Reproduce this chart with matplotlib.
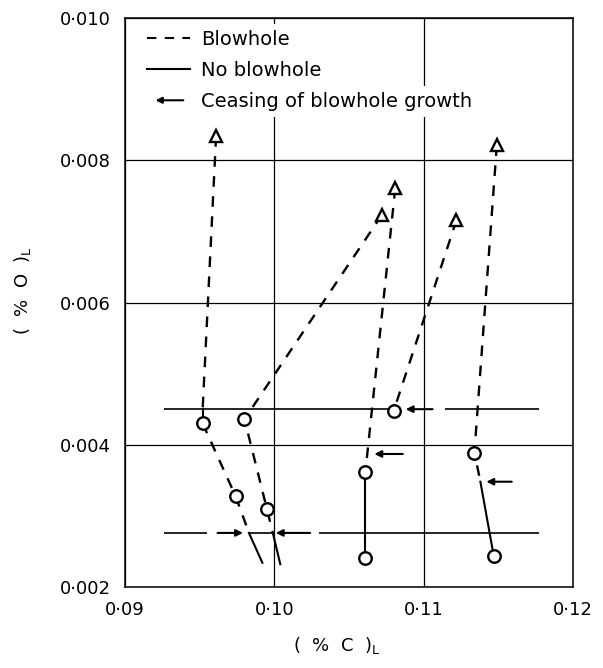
import matplotlib
matplotlib.use('Agg')
import matplotlib.pyplot as plt
from matplotlib.lines import Line2D
from matplotlib.patches import FancyArrowPatch
from matplotlib.legend_handler import HandlerBase

# end points (blowhole growth stopped / final) and circles (measured points)
tri_x = [0.0961, 0.1072, 0.1081, 0.1122, 0.1149]
tri_y = [0.00834, 0.00723, 0.00761, 0.00716, 0.00821]
circ_x = [0.0952, 0.0980, 0.1080, 0.0974, 0.0995, 0.1061, 0.1061, 0.1134, 0.1147]
circ_y = [0.00430, 0.00436, 0.00448, 0.00328, 0.00310, 0.00362, 0.00241, 0.00389, 0.00243]

# dashed paths (blowhole)
blow_x = [[0.0961, 0.0952], [0.0952, 0.0974, 0.0983],
          [0.1072, 0.0980, 0.0995, 0.0999],
          [0.1081, 0.1061], [0.1122, 0.1080], [0.1149, 0.1134, 0.1138]]
blow_y = [[0.00834, 0.00450], [0.00430, 0.00328, 0.00276],
          [0.00723, 0.00436, 0.00310, 0.00276],
          [0.00761, 0.00362], [0.00716, 0.00448], [0.00821, 0.00389, 0.00348]]

# solid paths (no blowhole)
solid_x = [[0.0952, 0.0952], [0.0983, 0.0992], [0.0999, 0.1004],
           [0.1061, 0.1061], [0.1138, 0.1147]]
solid_y = [[0.00450, 0.00430], [0.00276, 0.00234], [0.00276, 0.00232],
           [0.00362, 0.00241], [0.00348, 0.00243]]

# horizontal lines
h_y = [0.00450, 0.00450, 0.00276, 0.00276, 0.00276]
h_x0 = [0.0926, 0.1114, 0.0926, 0.0983, 0.1030]
h_x1 = [0.1080, 0.1177, 0.0955, 0.0999, 0.1177]

# arrows: ceasing of blowhole growth
arr_y = [0.00450, 0.00387, 0.00348, 0.00276, 0.00276]
arr_tail = [0.1106, 0.1086, 0.1159, 0.0962, 0.1024]
arr_tip = [0.1088, 0.1067, 0.1142, 0.0979, 0.1001]

xticks = [0.09, 0.10, 0.11, 0.12]
xlabels = ['0·09', '0·10', '0·11', '0·12']
yticks = [0.002, 0.004, 0.006, 0.008, 0.010]
ylabels = ['0·002', '0·004', '0·006', '0·008', '0·010']

plt.rcParams['font.family'] = 'DejaVu Sans'
dash = (0, (4.5, 4))


class ArrowKey:
    pass


class ArrowHandler(HandlerBase):
    def create_artists(self, legend, orig_handle, xdescent, ydescent,
                       width, height, fontsize, trans):
        y = height / 2 - ydescent
        a = FancyArrowPatch((-xdescent + width * 0.85, y), (-xdescent + width * 0.2, y),
                            arrowstyle='-|>', mutation_scale=9, color='k', lw=1.5,
                            shrinkA=0, shrinkB=0, transform=trans)
        return [a]


fig = plt.figure(figsize=(6.03, 6.68), dpi=100)
ax = fig.add_axes([0.2073, 0.1213, 0.7429, 0.8517])

for xs, ys in zip(blow_x, blow_y):
    ax.plot(xs, ys, color='k', lw=1.7, linestyle=dash, zorder=3)
for xs, ys in zip(solid_x, solid_y):
    ax.plot(xs, ys, color='k', lw=1.5, zorder=3)
ax.hlines(h_y, h_x0, h_x1, color='k', lw=1.2, zorder=3)
for y, x0, x1 in zip(arr_y, arr_tail, arr_tip):
    ax.annotate('', xy=(x1, y), xytext=(x0, y),
                arrowprops=dict(arrowstyle='-|>', color='k', lw=1.5,
                                mutation_scale=10, shrinkA=0, shrinkB=0), zorder=4)

ax.plot(circ_x, circ_y, 'o', ms=9, mfc='white', mec='k', mew=1.7, zorder=5)
ax.plot(tri_x, tri_y, '^', ms=9, mfc='white', mec='k', mew=1.7, zorder=5)

ax.set_xlim(0.09, 0.12)
ax.set_ylim(0.002, 0.010)
ax.set_xticks(xticks)
ax.set_xticklabels(xlabels, fontsize=13)
ax.set_yticks(yticks)
ax.set_yticklabels(ylabels, fontsize=13)
ax.tick_params(length=0, pad=10)
ax.grid(True, color='k', lw=0.9)
ax.set_axisbelow(True)
for s in ax.spines.values():
    s.set_linewidth(1.1)

ax.set_xlabel(r'(  %  C  )$_\mathrm{L}$', fontsize=13)
ax.set_ylabel(r'(  %  O  )$_\mathrm{L}$', fontsize=13)
ax.xaxis.set_label_coords(0.473, -0.085)
ax.yaxis.set_label_coords(-0.205, 0.52)

handles = [Line2D([], [], color='k', lw=1.5, linestyle=dash),
           Line2D([], [], color='k', lw=1.5),
           ArrowKey()]
labels = ['Blowhole', 'No blowhole', 'Ceasing of blowhole growth']
leg = ax.legend(handles, labels, loc='upper left', bbox_to_anchor=(0.049, 0.979),
                frameon=False, fontsize=14, handlelength=2.2, handletextpad=0.6,
                labelspacing=0.62, borderaxespad=0, borderpad=0,
                handler_map={ArrowKey: ArrowHandler()})
for t in leg.get_texts():
    t.set_bbox(dict(facecolor='white', edgecolor='none', pad=4))

fig.savefig('out.png', dpi=100)
